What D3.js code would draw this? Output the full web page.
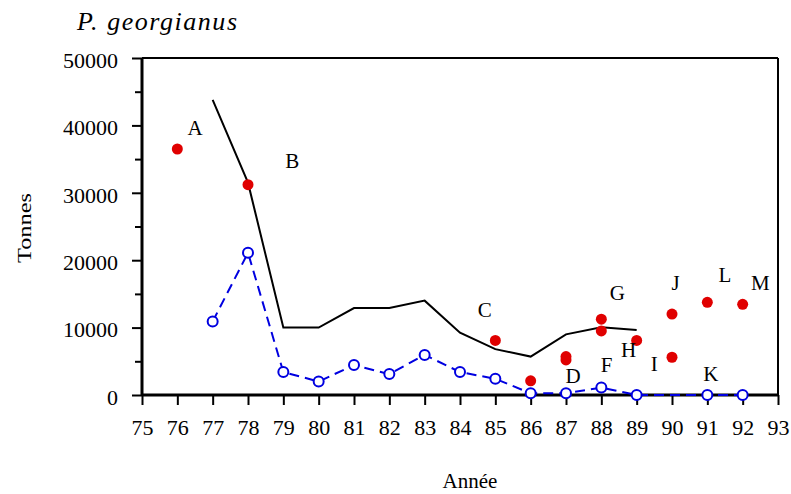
<!DOCTYPE html>
<html><head><meta charset="utf-8">
<script src="https://cdn.jsdelivr.net/npm/d3@7"></script>
<style>
body{margin:0;background:#fff;}
svg text{font-family:'Liberation Serif','Times New Roman',Times,serif !important;fill:#000;}
</style></head>
<body><svg id="c" width="791" height="494"></svg>
<script>
// Solid black line (years, tonnes)
const lineYears = [77,78,79,80,81,82,83,84,85,86,87,88,89];
const lineValues = [43800,31500,10000,10000,12900,12900,14000,9250,6800,5700,9000,10050,9650];
// Blue dashed series with open circles
const blueYears = [77,78,79,80,81,82,83,84,85,86,87,88,89,91,92];
const blueValues = [10900,21100,3400,2000,4450,3100,5950,3400,2400,250,250,1100,0,0,0];
// Red dots
const redYears = [76,78,85,86,87,87,88,88,89,90,90,91,92];
const redValues = [36500,31200,8100,2100,5700,5200,11250,9500,8100,12000,5600,13750,13450];
// Letter annotations (year, tonnes)
const labelText = ["A","B","C","D","F","G","H","I","J","K","L","M"];
const labelYears = [76.5,79.25,84.7,87.2,88.15,88.45,88.77,89.5,90.1,91.1,91.5,92.5];
const labelValues = [39700,34700,12700,2800,4550,15200,6700,4700,16600,3100,17800,16700];
// Ticks
const xTicks = d3.range(75,94);
const yTicks = [0,10000,20000,30000,40000,50000];
const yMinor = [5000,15000,25000,35000,45000];

const SERIF = "'Liberation Serif','Times New Roman',Times,serif";
const svg = d3.select("#c");
const L=142, R=778, T=58, B=395;
const x = d3.scaleLinear().domain([75,93]).range([L,R]);
const y = d3.scaleLinear().domain([0,50000]).range([B,T]);

// frame top/right
svg.append("line").attr("x1",L).attr("x2",R).attr("y1",T).attr("y2",T).attr("stroke","#000").attr("stroke-width",2);
svg.append("line").attr("x1",R).attr("x2",R).attr("y1",T).attr("y2",B).attr("stroke","#000").attr("stroke-width",2);

// axes
const gx = svg.append("g").attr("transform",`translate(0,${B})`)
  .call(d3.axisBottom(x).tickValues(xTicks).tickFormat(d=>d).tickSize(10).tickPadding(14));
const gy = svg.append("g").attr("transform",`translate(${L},0)`)
  .call(d3.axisLeft(y).tickValues(yTicks).tickFormat(d=>d).tickSize(10).tickPadding(14));
svg.append("g").attr("transform",`translate(${L},0)`)
  .call(d3.axisLeft(y).tickValues(yMinor).tickFormat("").tickSize(7))
  .call(g=>g.select(".domain").remove());
gx.select(".domain").attr("stroke-width",3).attr("d",`M${L},0H${R}`);
gy.select(".domain").attr("stroke-width",3).attr("d",`M0,${B}V${T}`);
[gx,gy].forEach(g=>{
  g.attr("font-family",SERIF).attr("font-size",22);
  g.selectAll(".tick text").attr("font-family",SERIF).attr("font-size",22);
});
gy.selectAll(".tick text").attr("dy","0.42em");
svg.selectAll(".tick line").attr("stroke-width",2);

// solid line
svg.append("path").datum(lineYears.map((d,i)=>[d,lineValues[i]]))
  .attr("d",d3.line().x(d=>x(d[0])).y(d=>y(d[1])))
  .attr("fill","none").attr("stroke","#000").attr("stroke-width",2);

// blue dashed
const bd = blueYears.map((d,i)=>[d,blueValues[i]]);
svg.append("path").datum(bd)
  .attr("d",d3.line().x(d=>x(d[0])).y(d=>y(d[1])))
  .attr("fill","none").attr("stroke","#0000e0").attr("stroke-width",2).attr("stroke-dasharray","10,6");
svg.selectAll("circle.b").data(bd).join("circle").attr("class","b")
  .attr("cx",d=>x(d[0])).attr("cy",d=>y(d[1])).attr("r",5)
  .attr("fill","#fff").attr("stroke","#0000e0").attr("stroke-width",2);

// red dots
svg.selectAll("circle.r").data(redYears.map((d,i)=>[d,redValues[i]])).join("circle").attr("class","r")
  .attr("cx",d=>x(d[0])).attr("cy",d=>y(d[1])).attr("r",5.5).attr("fill","#e00000");

// letters
svg.selectAll("text.lab").data(labelText).join("text").attr("class","lab")
  .attr("x",(d,i)=>x(labelYears[i])).attr("y",(d,i)=>y(labelValues[i]))
  .attr("text-anchor","middle").attr("dy","0.35em")
  .attr("font-family",SERIF).attr("font-size",21).text(d=>d);

// title
svg.append("text").attr("x",77).attr("y",30).attr("font-family",SERIF).attr("font-size",26)
  .attr("font-style","italic").attr("textLength",160).attr("lengthAdjust","spacing").text("P. georgianus");
// x label
svg.append("text").attr("x",470).attr("y",488).attr("text-anchor","middle").attr("font-family",SERIF).attr("font-size",21).text("Année");
// y label
svg.append("text").attr("transform","translate(31,228) rotate(-90)").attr("text-anchor","middle")
  .attr("font-family",SERIF).attr("font-size",19).attr("textLength",70).attr("lengthAdjust","spacingAndGlyphs").text("Tonnes");
</script></body></html>
